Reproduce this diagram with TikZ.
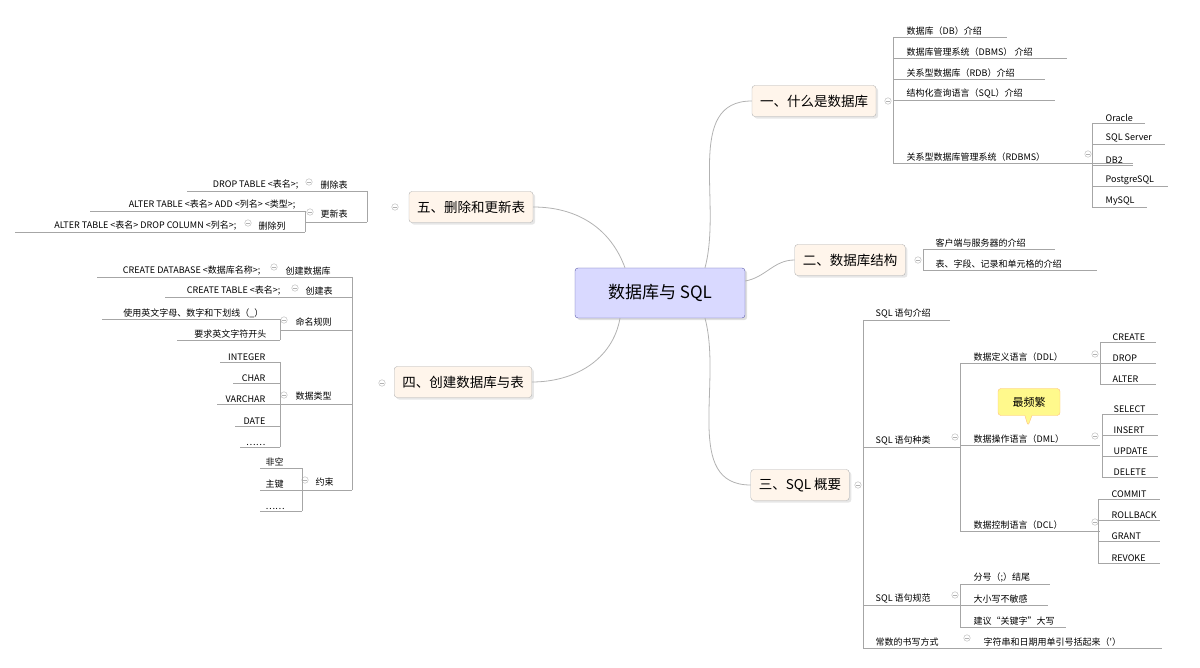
\documentclass[tikz,border=0pt]{standalone}
\usepackage{fontspec}
\newfontfamily\cjk{Noto Sans CJK SC}
\usetikzlibrary{positioning,calc,shapes,shapes.callouts,shadows}
\tikzset{
    root/.style={
        draw=gray!70!blue,
        rounded corners=3pt,
        fill=blue!15,
        minimum width=170pt,
        minimum height=50pt,
        font=\cjk\fontsize{17}{19}\selectfont,
        drop shadow={opacity=0.25}
    },
    topic/.style={
        draw=gray!60,
        rounded corners=3pt,
        fill=orange!8,
        minimum height=31pt,
        inner xsep=8pt,
        font=\cjk\fontsize{13.5}{15}\selectfont,
        drop shadow={opacity=0.2}
    },
    leaf/.style={anchor=south west, inner sep=1.5pt, font=\cjk\fontsize{9}{10}\selectfont},
    lleaf/.style={leaf, anchor=south east},
    bar/.style={draw=gray!70, line width=0.6pt},
    branch/.style={draw=gray!60, line width=0.8pt},
    fold/.style={circle, draw=gray!60, minimum size=6.5pt, inner sep=0pt,
        path picture={\draw[gray!60] ([xshift=-1.6pt]path picture bounding box.center) -- ([xshift=1.6pt]path picture bounding box.center);}}
}
\begin{document}
\begin{tikzpicture}[x=1pt, y=-1pt]
    \useasboundingbox (0,0) rectangle (1200,668);

    % Main topics
    \node[root] (root) at (660,293) {数据库与 SQL};
    \node[topic] (b1) at (814,101) {一、什么是数据库};
    \node[topic] (b2) at (850,260) {二、数据库结构};
    \node[topic] (b3) at (800,485) {三、SQL 概要};
    \node[topic] (b5) at (471,207) {五、删除和更新表};
    \node[topic] (b4) at (463,382) {四、创建数据库与表};

    \draw[branch] ($(root.north)+(45,0)$) to[out=75,in=180] (b1.west);
    \draw[branch] ($(root.east)+(0,-12)$) to[out=10,in=180] (b2.west);
    \draw[branch] ($(root.south)+(45,0)$) to[out=-75,in=180] (b3.west);
    \draw[branch] ($(root.north)+(-35,0)$) to[out=110,in=0] (b5.east);
    \draw[branch] ($(root.south)+(-40,0)$) to[out=-100,in=0] (b4.east);

    % Part one
    \node[fold] (f1) at (888,101) {};
    \draw[bar] (893,37) -- (893,163);
    \foreach \t/\y/\r in {数据库（DB）介绍/37/1007, 数据库管理系统（DBMS） 介绍/58/1067,
        关系型数据库（RDB）介绍/79/1045, 结构化查询语言（SQL）介绍/100/1055,
        关系型数据库管理系统（RDBMS）/163/1133}{
        \node[leaf] (a\y) at (905,\y) {\t};
        \draw[bar] (893,\y) -- (\r,\y);
    }
    \node[fold] (f11) at (1088,154) {};
    \draw[bar] (1092,123) -- (1092,207);
    \foreach \t/\y/\r in {Oracle/123/1145, SQL Server/144/1165, DB2/165/1133,
        PostgreSQL/186/1168, MySQL/207/1147}{
        \node[leaf] (r\y) at (1104,\y) {\t};
        \draw[bar] (1092,\y) -- (\r,\y);
    }

    % Part two
    \node[fold] (f2) at (918,260) {};
    \draw[bar] (923,249) -- (923,270);
    \node[leaf] (s1) at (934,249) {客户端与服务器的介绍};
    \node[leaf] (s2) at (934,270) {表、字段、记录和单元格的介绍};
    \draw[bar] (923,249) -- (1055,249);
    \draw[bar] (923,270) -- (1097,270);

    % Part three
    \node[fold] (f3) at (858,485) {};
    \draw[bar] (863,320) -- (863,648);
    \node[leaf] (q1) at (874,320) {SQL 语句介绍};
    \draw[bar] (863,320) -- (950,320);
    \node[leaf] (q2) at (874,447) {SQL 语句种类};
    \draw[bar] (863,447) -- (960,447);
    \node[fold] at (955,437) {};
    \draw[bar] (960,363) -- (960,531);
    \foreach \t/\y in {数据定义语言（DDL）/363, 数据操作语言（DML）/445, 数据控制语言（DCL）/531}{
        \node[leaf] (l\y) at (972,\y) {\t};
        \draw[bar] (960,\y) -- (1100,\y);
        \node[fold] at (1095,\y-9) {};
    }
    \draw[bar] (1100,342) -- (1100,384);
    \foreach \t/\y in {CREATE/342, DROP/363, ALTER/384}{
        \node[leaf] (d\y) at (1111,\y) {\t};
        \draw[bar] (1100,\y) -- (1156,\y);
    }
    \draw[bar] (1102,414) -- (1102,477);
    \foreach \t/\y in {SELECT/414, INSERT/435, UPDATE/456, DELETE/477}{
        \node[leaf] (m\y) at (1112,\y) {\t};
        \draw[bar] (1102,\y) -- (1158,\y);
    }
    \draw[bar] (1098,499) -- (1098,563);
    \foreach \t/\y in {COMMIT/499, ROLLBACK/520, GRANT/541, REVOKE/563}{
        \node[leaf] (c\y) at (1110,\y) {\t};
        \draw[bar] (1098,\y) -- (1160,\y);
    }
    \node[rectangle callout, draw=orange!50, fill=yellow!45, rounded corners=3pt,
        minimum width=62pt, minimum height=27pt, font=\cjk\fontsize{11}{12}\selectfont,
        callout absolute pointer={(1028,426)}] (hot) at (1029,402) {最频繁};
    \node[leaf] (q3) at (874,605) {SQL 语句规范};
    \draw[bar] (863,605) -- (960,605);
    \node[fold] at (955,595) {};
    \draw[bar] (960,584) -- (960,627);
    \foreach \t/\y/\r in {分号（;）结尾/584/1050, 大小写不敏感/605/1048, 建议“关键字”大写/627/1066}{
        \node[leaf] (g\y) at (972,\y) {\t};
        \draw[bar] (960,\y) -- (\r,\y);
    }
    \node[leaf] (q4) at (874,648) {常数的书写方式};
    \node[fold] at (967,638) {};
    \node[leaf] (q5) at (982,648) {字符串和日期用单引号括起来（'）};
    \draw[bar] (863,648) -- (1162,648);

    % Part five
    \node[fold] (f5) at (395,207) {};
    \draw[bar] (367,191) -- (367,222);
    \draw[bar] (187,191) -- (367,191);
    \node[lleaf] (e1) at (300,191) {DROP TABLE <表名>;};
    \node[fold] at (309,182) {};
    \node[leaf] (e2) at (319,191) {删除表};
    \draw[bar] (305,222) -- (367,222);
    \node[leaf] (e3) at (319,220) {更新表};
    \node[fold] at (310,212) {};
    \draw[bar] (305,211) -- (305,232);
    \draw[bar] (90,211) -- (305,211);
    \node[lleaf] (e4) at (297,211) {ALTER TABLE <表名> ADD <列名> <类型>;};
    \draw[bar] (15,232) -- (305,232);
    \node[lleaf] (e5) at (238,232) {ALTER TABLE <表名> DROP COLUMN <列名>;};
    \node[fold] at (248,223) {};
    \node[leaf] (e6) at (257,232) {删除列};

    % Part four
    \node[fold] (f4) at (382,383) {};
    \draw[bar] (352,277) -- (352,490);
    \draw[bar] (97,277) -- (352,277);
    \node[lleaf] (k1) at (262,277) {CREATE DATABASE <数据库名称>;};
    \node[fold] at (274,267) {};
    \node[leaf] (k2) at (284,277) {创建数据库};
    \draw[bar] (165,297) -- (352,297);
    \node[lleaf] (k3) at (282,297) {CREATE TABLE <表名>;};
    \node[fold] at (295,288) {};
    \node[leaf] (k4) at (304,297) {创建表};
    \draw[bar] (280,330) -- (352,330);
    \node[leaf] (k5) at (294,328) {命名规则};
    \node[fold] at (284,320) {};
    \draw[bar] (280,319) -- (280,340);
    \draw[bar] (102,319) -- (280,319);
    \node[lleaf] (k6) at (265,319) {使用英文字母、数字和下划线（\_）};
    \draw[bar] (177,340) -- (280,340);
    \node[lleaf] (k7) at (268,340) {要求英文字符开头};
    \draw[bar] (280,404) -- (352,404);
    \node[leaf] (k8) at (294,402) {数据类型};
    \node[fold] at (284,395) {};
    \draw[bar] (280,362) -- (280,447);
    \foreach \t/\y/\l in {INTEGER/362/220, CHAR/383/233, VARCHAR/404/217, DATE/426/235, ……/447/240}{
        \node[lleaf] (t\y) at (267,\y) {\t};
        \draw[bar] (\l,\y) -- (280,\y);
    }
    \draw[bar] (302,490) -- (352,490);
    \node[leaf] (k9) at (314,488) {约束};
    \node[fold] at (305,480) {};
    \draw[bar] (302,468) -- (302,511);
    \foreach \t/\y in {非空/468, 主键/490, ……/511}{
        \node[leaf] (z\y) at (264,\y) {\t};
        \draw[bar] (260,\y) -- (302,\y);
    }
\end{tikzpicture}
\end{document}
